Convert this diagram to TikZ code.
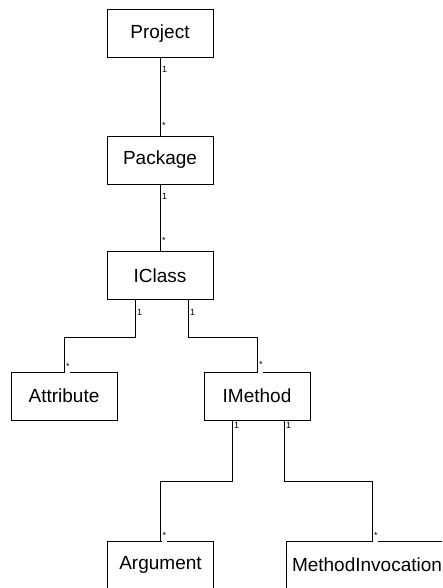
\documentclass[tikz,border=0pt]{standalone}
\usepackage{fontspec}
\setmainfont{Liberation Sans}
\begin{document}
\begin{tikzpicture}[x=1pt,y=-1pt,
  box/.style={draw, line width=0.8pt, minimum width=106pt, minimum height=48pt,
    inner sep=0pt, font=\fontsize{19}{21}\selectfont},
  link/.style={line width=0.8pt},
  mult/.style={font=\fontsize{9}{10}\selectfont, inner xsep=0.8pt, inner ysep=1.5pt,
    anchor=base west, fill=white},
  gapmult/.style={mult, text depth=#1}]
\clip (0,0) rectangle (442,588);
\fill[white] (0,0) rectangle (442,588);

% class boxes
\node[box] (Project) at (160,33.5) {Project};
\node[box] (Package) at (160,160) {Package};
\node[box] (IClass) at (160,275.5) {IClass};
\node[box] (Attribute) at (64,396) {Attribute};
\node[box] (IMethod) at (257,396) {IMethod};
\node[box] (Argument) at (160.5,565) {Argument};
\node[box, minimum width=172pt, text width=160pt, align=left, inner xsep=6pt]
  (MethodInvocation) at (372,565) {MethodInvocation};

% associations with multiplicities
\draw[link] (Project) -- (Package);
\node[mult] at ([shift={(1,15)}]Project.south) {1};
\node[mult] at ([shift={(1,-7)}]Package.north) {*};

\draw[link] (Package) -- (IClass);
\node[mult] at ([shift={(1,15)}]Package.south) {1};
\node[mult] at ([shift={(1,-8)}]IClass.north) {*};

\draw[link] ([xshift=-25pt]IClass.south) -- ++(0,37) -| (Attribute.north);
\node[mult] at ([shift={(-24,16)}]IClass.south) {1};
\node[gapmult=3pt] at ([shift={(1,-2)}]Attribute.north) {*};

\draw[link] ([xshift=28pt]IClass.south) -- ++(0,37) -| (IMethod.north);
\node[mult] at ([shift={(29,16)}]IClass.south) {1};
\node[gapmult=5pt] at ([shift={(1,-4)}]IMethod.north) {*};

\draw[link] ([xshift=-25pt]IMethod.south) -- ++(0,61) -| (Argument.north);
\node[mult] at ([shift={(-24,8)}]IMethod.south) {1};
\node[gapmult=3pt] at ([shift={(1,-2)}]Argument.north) {*};

\draw[link] ([xshift=27pt]IMethod.south) -- ++(0,61) -| (MethodInvocation.north);
\node[mult] at ([shift={(28,8)}]IMethod.south) {1};
\node[gapmult=3pt] at ([shift={(1,-2)}]MethodInvocation.north) {*};
\end{tikzpicture}
\end{document}
